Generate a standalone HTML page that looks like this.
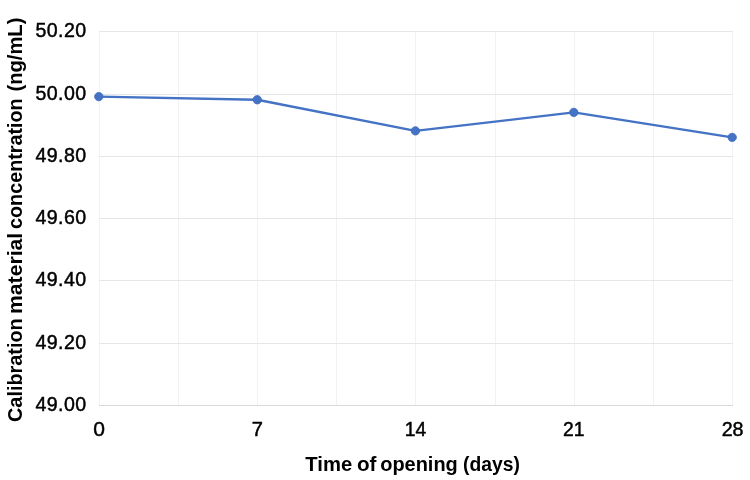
<!DOCTYPE html>
<html>
<head>
<meta charset="utf-8">
<title>Chart</title>
<style>
  html, body { margin: 0; padding: 0; background: #ffffff; }
  body { width: 750px; height: 480px; overflow: hidden; font-family: "Liberation Sans", sans-serif; }
  svg { display: block; will-change: transform; }
  text { font-family: "Liberation Sans", sans-serif; fill: #000000; }
  .tick { font-size: 19.6px; stroke: #000; stroke-width: 0.45px; }
  .title { font-size: 20px; font-weight: bold; }
</style>
</head>
<body>
<svg width="750" height="480" viewBox="0 0 750 480">
  <rect x="0" y="0" width="750" height="480" fill="#ffffff"/>

  <!-- vertical gridlines -->
  <g fill="#f2f2f2" shape-rendering="crispEdges">
    <rect x="99" y="31" width="1" height="374"/>
    <rect x="178" y="31" width="1" height="374"/>
    <rect x="257" y="31" width="1" height="374"/>
    <rect x="336" y="31" width="1" height="374"/>
    <rect x="415" y="31" width="1" height="374"/>
    <rect x="495" y="31" width="1" height="374"/>
    <rect x="574" y="31" width="1" height="374"/>
    <rect x="653" y="31" width="1" height="374"/>
    <rect x="732" y="31" width="1" height="374"/>
  </g>
  <!-- horizontal gridlines -->
  <g fill="#e6e6e6" shape-rendering="crispEdges">
    <rect x="99" y="31" width="634" height="1"/>
    <rect x="99" y="94" width="634" height="1"/>
    <rect x="99" y="156" width="634" height="1"/>
    <rect x="99" y="218" width="634" height="1"/>
    <rect x="99" y="280" width="634" height="1"/>
    <rect x="99" y="343" width="634" height="1"/>
  </g>
  <rect x="99" y="405" width="634" height="1" fill="#d9d9d9" shape-rendering="crispEdges"/>

  <!-- data line -->
  <polyline points="98.8,96.6 257.25,99.75 415.4,130.9 573.8,112.4 732.2,137.4"
            fill="none" stroke="#4472c4" stroke-width="2.4" stroke-linejoin="round" stroke-linecap="round"/>
  <g fill="#4472c4" stroke="#3f6cbe" stroke-width="0.8">
    <circle cx="98.8" cy="96.6" r="4.2"/>
    <circle cx="257.25" cy="99.75" r="4.2"/>
    <circle cx="415.4" cy="130.9" r="4.2"/>
    <circle cx="573.8" cy="112.4" r="4.2"/>
    <circle cx="732.2" cy="137.4" r="4.2"/>
  </g>

  <!-- y tick labels -->
  <g class="tick" text-anchor="end">
    <text x="86.1" y="37" textLength="50.5" lengthAdjust="spacing">50.20</text>
    <text x="86.1" y="100" textLength="50.5" lengthAdjust="spacing">50.00</text>
    <text x="86.1" y="162" textLength="50.5" lengthAdjust="spacing">49.80</text>
    <text x="86.1" y="224" textLength="50.5" lengthAdjust="spacing">49.60</text>
    <text x="86.1" y="286" textLength="50.5" lengthAdjust="spacing">49.40</text>
    <text x="86.1" y="349" textLength="50.5" lengthAdjust="spacing">49.20</text>
    <text x="86.1" y="411" textLength="50.5" lengthAdjust="spacing">49.00</text>
  </g>

  <!-- x tick labels -->
  <g class="tick" text-anchor="middle">
    <text x="99" y="436" textLength="11.7" lengthAdjust="spacingAndGlyphs">0</text>
    <text x="257.3" y="436" textLength="11.2" lengthAdjust="spacingAndGlyphs">7</text>
    <text x="415.5" y="436" textLength="21.5" lengthAdjust="spacingAndGlyphs">14</text>
    <text x="573.8" y="436" textLength="21.5" lengthAdjust="spacingAndGlyphs">21</text>
    <text x="732.6" y="436" textLength="21.9" lengthAdjust="spacingAndGlyphs">28</text>
  </g>

  <!-- axis titles -->
  <g class="title">
    <text x="305.3" y="471" textLength="46.9" lengthAdjust="spacingAndGlyphs">Time</text>
    <text x="357" y="471" textLength="19.5" lengthAdjust="spacingAndGlyphs">of</text>
    <text x="380.2" y="471" textLength="77.6" lengthAdjust="spacingAndGlyphs">opening</text>
    <text x="463" y="471" textLength="56.8" lengthAdjust="spacingAndGlyphs">(days)</text>
  </g>
  <g class="title">
    <text transform="translate(22.1,422) rotate(-90)" textLength="103.7" lengthAdjust="spacingAndGlyphs">Calibration</text>
    <text transform="translate(22.1,314) rotate(-90)" textLength="81.2" lengthAdjust="spacingAndGlyphs">material</text>
    <text transform="translate(22.1,229) rotate(-90)" textLength="130.7" lengthAdjust="spacingAndGlyphs">concentration</text>
    <text transform="translate(22.1,91.5) rotate(-90)" textLength="73.9" lengthAdjust="spacingAndGlyphs">(ng/mL)</text>
  </g>
</svg>
</body>
</html>
